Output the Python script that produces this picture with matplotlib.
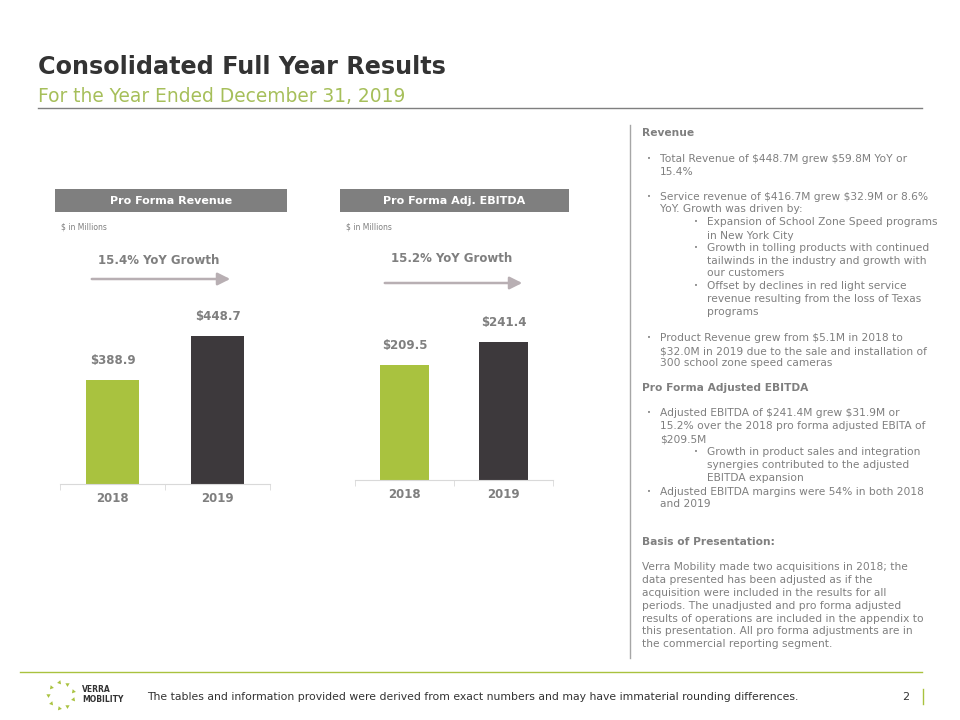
import numpy as np
import matplotlib
matplotlib.use("Agg")
import matplotlib.pyplot as plt
from matplotlib.patches import Rectangle, FancyArrowPatch

# chart data
years = ["2018", "2019"]
revenue = [388.9, 448.7]
ebitda = [209.5, 241.4]
panel_titles = ["Pro Forma Revenue", "Pro Forma Adj. EBITDA"]
growth_labels = ["15.4% YoY Growth", "15.2% YoY Growth"]

# commentary on the right: (y pixel, level, text, bold)
notes = [
    (133, 0, "Revenue", True),
    (159, 1, "Total Revenue of $448.7M grew $59.8M YoY or", False),
    (172, -1, "15.4%", False),
    (197, 1, "Service revenue of $416.7M grew $32.9M or 8.6%", False),
    (209, -1, "YoY. Growth was driven by:", False),
    (222, 2, "Expansion of School Zone Speed programs", False),
    (236, -2, "in New York City", False),
    (248, 2, "Growth in tolling products with continued", False),
    (261, -2, "tailwinds in the industry and growth with", False),
    (273, -2, "our customers", False),
    (286, 2, "Offset by declines in red light service", False),
    (299, -2, "revenue resulting from the loss of Texas", False),
    (312, -2, "programs", False),
    (338, 1, "Product Revenue grew from $5.1M in 2018 to", False),
    (351, -1, "$32.0M in 2019 due to the sale and installation of", False),
    (363, -1, "300 school zone speed cameras", False),
    (388, 0, "Pro Forma Adjusted EBITDA", True),
    (413, 1, "Adjusted EBITDA of $241.4M grew $31.9M or", False),
    (426, -1, "15.2% over the 2018 pro forma adjusted EBITA of", False),
    (439, -1, "$209.5M", False),
    (452, 2, "Growth in product sales and integration", False),
    (465, -2, "synergies contributed to the adjusted", False),
    (478, -2, "EBITDA expansion", False),
    (492, 1, "Adjusted EBITDA margins were 54% in both 2018", False),
    (504, -1, "and 2019", False),
    (542, 0, "Basis of Presentation:", True),
    (567, 0, "Verra Mobility made two acquisitions in 2018; the", False),
    (580, 0, "data presented has been adjusted as if the", False),
    (593, 0, "acquisition were included in the results for all", False),
    (606, 0, "periods. The unadjusted and pro forma adjusted", False),
    (619, 0, "results of operations are included in the appendix to", False),
    (631, 0, "this presentation. All pro forma adjustments are in", False),
    (644, 0, "the commercial reporting segment.", False),
]

GREEN = "#A9C23F"
DARK = "#3D393C"
GREY = "#7F7F7F"
ARROW = "#B8AFB3"

plt.rcParams["font.family"] = ["DejaVu Sans"]
plt.rcParams["text.parse_math"] = False

W, H = 960, 720
fig = plt.figure(figsize=(9.6, 7.2), dpi=100)


def fx(x):
    return x / W


def fy(y):
    return 1 - y / H


# title block
fig.text(fx(38), fy(67), "Consolidated Full Year Results", fontsize=17.2, fontweight="bold",
         color="#333333", va="center", ha="left")
fig.text(fx(38), fy(97), "For the Year Ended December 31, 2019", fontsize=13.4,
         color="#A6BF5A", va="center", ha="left")
fig.add_artist(plt.Line2D([fx(38), fx(922)], [fy(108), fy(108)], color=GREY, lw=1))


def bar_panel(values, box, axes_px, scale, v0, growth, growth_y, arrow_px, title):
    # grey header box
    bx0, bx1 = box
    fig.add_artist(Rectangle((fx(bx0), fy(212)), fx(bx1) - fx(bx0), (212 - 189) / H,
                             transform=fig.transFigure, color=GREY, lw=0))
    fig.text(fx((bx0 + bx1) / 2), fy(200.5), title, color="white", fontsize=8,
             fontweight="bold", ha="center", va="center")
    fig.text(fx(bx0 + 6), fy(227), "$ in Millions", color=GREY, fontsize=5.5,
             ha="left", va="center")
    fig.text(fx((arrow_px[0] + arrow_px[1]) / 2 - 2), fy(growth_y), growth,
             color=GREY, fontsize=8.5, fontweight="bold", ha="center", va="center")
    fig.add_artist(FancyArrowPatch(
        (fx(arrow_px[0]), fy(arrow_px[2])), (fx(arrow_px[1]), fy(arrow_px[2])),
        transform=fig.transFigure, arrowstyle="-|>,head_length=5,head_width=2.5",
        color=ARROW, lw=1.8, mutation_scale=1.5))

    left, right, bottom, top = axes_px
    ax = fig.add_axes([fx(left), fy(bottom), (right - left) / W, (bottom - top) / H])
    x = np.arange(len(years))
    ax.bar(x, values, width=0.5, bottom=0, color=[GREEN, DARK])
    ax.set_xlim(-0.5, len(years) - 0.5)
    ax.set_ylim(v0, v0 + (bottom - top) / scale)
    for xi, v in zip(x, values):
        ax.annotate(f"${v:.1f}", (xi, v), xytext=(0, 14), textcoords="offset points",
                    ha="center", va="center", fontsize=8.5, fontweight="bold", color=GREY)
    ax.set_xticks(x)
    ax.set_xticklabels(years, fontsize=8.5, fontweight="bold", color=GREY)
    ax.set_xticks([-0.5, 0.5, 1.5], minor=True)
    ax.tick_params(axis="x", which="major", length=0, pad=6)
    ax.tick_params(axis="x", which="minor", length=4, color="#D9D9D9")
    ax.set_yticks([])
    for s in ["top", "right", "left"]:
        ax.spines[s].set_visible(False)
    ax.spines["bottom"].set_color("#D9D9D9")
    ax.patch.set_alpha(0)
    return ax


bar_panel(revenue, (55, 287), (60, 270, 484, 300), 0.747, 250, growth_labels[0], 260,
          (89, 233, 279), panel_titles[0])
bar_panel(ebitda, (340, 569), (355, 553, 480, 300), 0.721, 50, growth_labels[1], 258,
          (382, 525, 283), panel_titles[1])

# right-hand commentary
fig.add_artist(plt.Line2D([fx(630), fx(630)], [fy(125), fy(658)], color="#A6A6A6", lw=1))
for y, level, txt, bold in notes:
    if level == 0:
        xt = 642
    elif abs(level) == 1:
        xt = 660
    else:
        xt = 707
    if level > 0:
        fig.text(fx(xt - 13), fy(y), "•", color=GREY, fontsize=5, ha="left", va="center")
    fig.text(fx(xt), fy(y), txt, color=GREY, fontsize=7.7,
             fontweight="bold" if bold else "normal", ha="left", va="center")

# footer
fig.add_artist(plt.Line2D([fx(20), fx(922)], [fy(672), fy(672)], color=GREEN, lw=1))
fig.text(fx(147), fy(697), "The tables and information provided were derived from exact numbers "
         "and may have immaterial rounding differences.", color="#333333", fontsize=7.8,
         ha="left", va="center")
fig.text(fx(906), fy(697), "2", color="#333333", fontsize=8, ha="center", va="center")
fig.add_artist(plt.Line2D([fx(923), fx(923)], [fy(689), fy(704)], color=GREEN, lw=1))

# logo: ring of small green chevrons
logo_ax = fig.add_axes([fx(44), fy(712), 34 / W, 34 / H])
logo_ax.set_xlim(-1, 1)
logo_ax.set_ylim(-1, 1)
logo_ax.axis("off")
for a in np.arange(0, 360, 40) + 20:
    t = np.deg2rad(a)
    logo_ax.plot(0.75 * np.cos(t), 0.75 * np.sin(t), marker=(3, 0, a), color=GREEN,
                 markersize=3.5, markeredgewidth=0)
fig.text(fx(82), fy(690), "VERRA", color="#333333", fontsize=5.5, fontweight="bold",
         ha="left", va="center")
fig.text(fx(82), fy(700), "MOBILITY", color="#333333", fontsize=5.5, fontweight="bold",
         ha="left", va="center")

fig.savefig("out.png", dpi=100)
